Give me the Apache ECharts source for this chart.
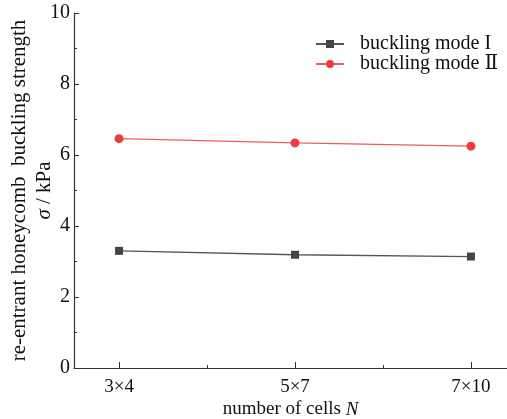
<!DOCTYPE html>
<html>
<head>
<meta charset="utf-8">
<script src="https://cdn.jsdelivr.net/npm/echarts@6/dist/echarts.min.js"></script>
<style>
html, body { margin: 0; padding: 0; background: #fff; }
#main { width: 507px; height: 419px; }
</style>
</head>
<body>
<div id="main"></div>
<script>
var categories = ['3×4', '5×7', '7×10'];
var mode1 = [3.30, 3.19, 3.14];
var mode2 = [6.46, 6.34, 6.25];
var yTicks = [0, 2, 4, 6, 8, 10];

var chart = echarts.init(document.getElementById('main'));
var serif = '"Liberation Serif", "DejaVu Serif", serif';

function toPoints(arr) {
    return arr.map(function (v, i) { return [i, v]; });
}

var option = {
    animation: false,
    grid: { left: 74, right: 0, top: 13, bottom: 51, containLabel: false, outerBoundsMode: 'none' },
    legend: {
        orient: 'vertical',
        left: 315,
        top: 34,
        padding: 0,
        itemGap: 0,
        itemWidth: 28,
        itemHeight: 10,
        textStyle: { fontFamily: serif, fontSize: 20, lineHeight: 19, color: '#111', padding: [0, 0, 0, 11] },
        data: ['buckling mode I', 'buckling mode Ⅱ']
    },
    xAxis: [{
        type: 'value',
        min: -0.256,
        max: 2.205,
        splitLine: { show: false },
        axisLine: { onZero: false, lineStyle: { color: '#333', width: 1.2 } },
        axisTick: { inside: true, length: 6, customValues: [0, 1, 2], lineStyle: { color: '#333' } },
        axisLabel: {
            customValues: [0, 1, 2],
            formatter: function (v) { return categories[Math.round(v)]; },
            fontFamily: serif, fontSize: 19, color: '#111', margin: 10
        },
        name: '{n|number of cells }{i|N}',
        nameLocation: 'middle',
        nameGap: 32,
        nameMoveOverlap: false,
        nameTextStyle: {
            rich: {
                n: { fontFamily: serif, fontSize: 19, color: '#111' },
                i: { fontFamily: serif, fontSize: 19, fontStyle: 'italic', color: '#111' }
            }
        }
    }, {
        type: 'value',
        min: -0.256,
        max: 2.205,
        splitLine: { show: false },
        axisLine: { show: false, onZero: false },
        axisTick: { inside: true, length: 3, customValues: [0.5, 1.5], lineStyle: { color: '#333' } },
        axisLabel: { show: false },
        position: 'bottom'
    }],
    yAxis: {
        type: 'value',
        min: 0,
        max: 10,
        interval: 2,
        splitLine: { show: false },
        axisLine: { show: true, onZero: false, lineStyle: { color: '#333', width: 1.2 } },
        axisTick: { inside: true, length: 5, lineStyle: { color: '#333' } },
        minorTick: { show: true, splitNumber: 2, length: 3, lineStyle: { color: '#333' } },
        axisLabel: {
            formatter: function (v) { return yTicks.indexOf(v) >= 0 ? String(v) : ''; },
            fontFamily: serif, fontSize: 20, color: '#111', margin: 4
        },
        name: '{n|re-entrant honeycomb  buckling strength}\n{i|σ}{n| / kPa}',
        nameLocation: 'middle',
        nameRotate: 90,
        nameGap: 17,
        nameMoveOverlap: false,
        nameTextStyle: {
            lineHeight: 25,
            rich: {
                n: { fontFamily: serif, fontSize: 21, lineHeight: 25, color: '#111' },
                i: { fontFamily: serif, fontSize: 21, lineHeight: 25, fontStyle: 'italic', color: '#111' }
            }
        }
    },
    series: [{
        name: 'buckling mode I',
        type: 'line',
        data: toPoints(mode1),
        symbol: 'rect',
        symbolSize: 8,
        itemStyle: { color: '#444' },
        lineStyle: { color: '#555', width: 1.3 }
    }, {
        name: 'buckling mode Ⅱ',
        type: 'line',
        data: toPoints(mode2),
        symbol: 'circle',
        symbolSize: 9,
        itemStyle: { color: '#f03c3c' },
        lineStyle: { color: '#f05a5a', width: 1.3 }
    }]
};
chart.setOption(option);
</script>
</body>
</html>
